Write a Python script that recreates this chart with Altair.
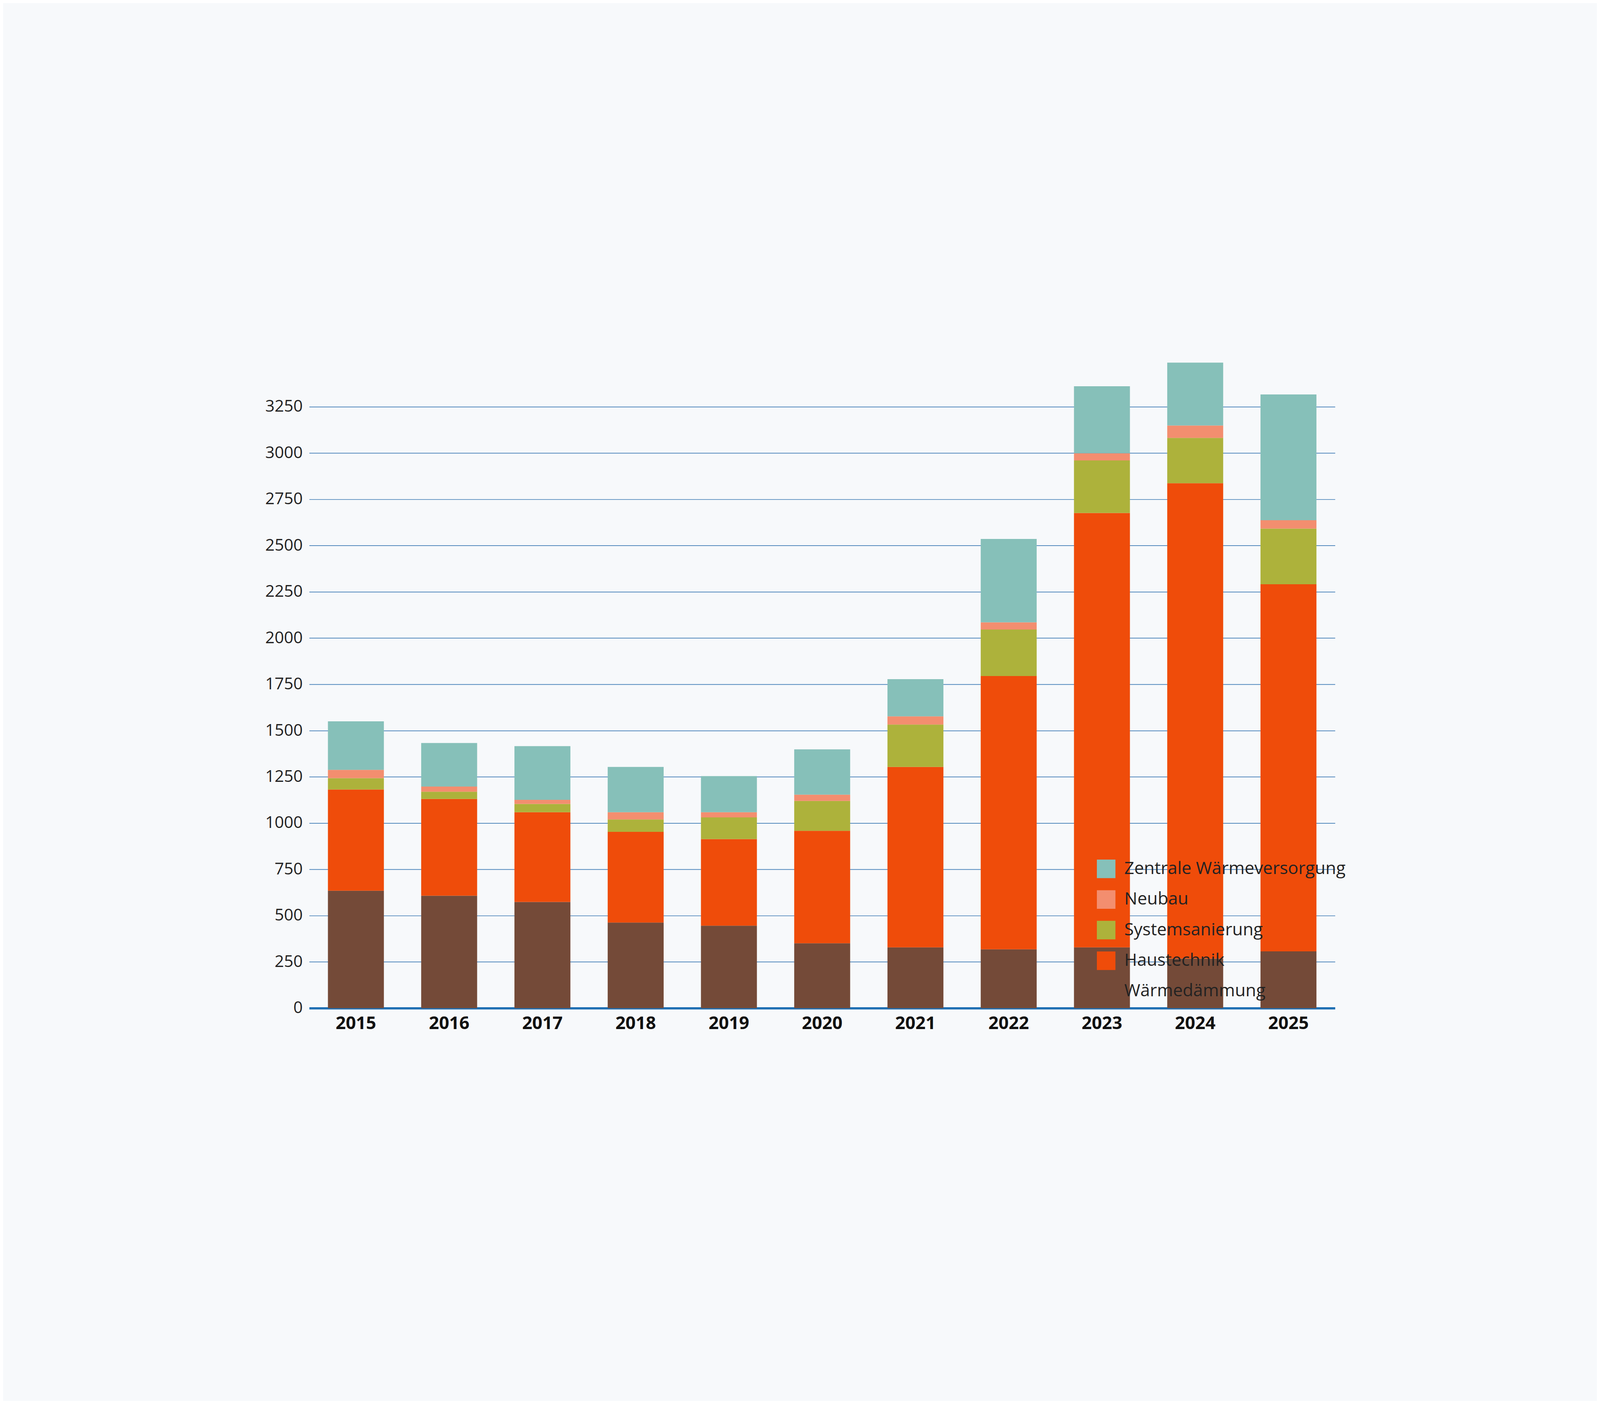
import altair as alt
import pandas as pd

years = [str(y) for y in range(2015, 2026)]
waermedaemmung = [635, 608, 574, 463, 446, 351, 329, 318, 329, 268, 307]
haustechnik = [547, 523, 485, 490, 468, 608, 975, 1477, 2347, 2569, 1984]
systemsanierung = [61, 39, 45, 67, 117, 161, 229, 251, 284, 245, 301]
neubau = [45, 28, 22, 39, 28, 34, 44, 39, 39, 67, 45]
zentrale = [262, 235, 290, 245, 195, 245, 201, 451, 362, 340, 680]

series = [
    ("Wärmedämmung", waermedaemmung, "#744a38"),
    ("Haustechnik", haustechnik, "#ef4c0a"),
    ("Systemsanierung", systemsanierung, "#adb23b"),
    ("Neubau", neubau, "#f38e6f"),
    ("Zentrale Wärmeversorgung", zentrale, "#86c0b9"),
]

rows = []
for i, (name, vals, _) in enumerate(series):
    for y, v in zip(years, vals):
        rows.append({"jahr": y, "kategorie": name, "wert": v, "ord": i})
df = pd.DataFrame(rows)

legend_domain = [s[0] for s in reversed(series)]
legend_range = [s[2] for s in reversed(series)]

chart = alt.Chart(df).mark_bar().encode(
    x=alt.X("jahr:O", title=None, sort=years,
            scale=alt.Scale(paddingInner=0.4, paddingOuter=0.2),
            axis=alt.Axis(labelAngle=0, labelFontSize=80, labelFontWeight="bold",
                          labelColor="#111111", labelPadding=30, ticks=False,
                          labelLimit=1000, domainColor="#1f6fb3", domainWidth=10)),
    y=alt.Y("wert:Q", title=None, stack="zero",
            scale=alt.Scale(domain=[0, 3500], nice=False),
            axis=alt.Axis(values=list(range(0, 3251, 250)), format="d",
                          labelFontSize=74, labelLimit=1000,
                          labelColor="#222222", labelPadding=30, ticks=False,
                          domain=False, gridColor="#3d7ab5", gridWidth=3)),
    color=alt.Color("kategorie:N", title=None,
                    scale=alt.Scale(domain=legend_domain, range=legend_range),
                    legend=alt.Legend(orient="none", legendX=3550, legendY=2250,
                                      symbolType="square", symbolSize=7000,
                                      symbolStrokeWidth=0, labelFontSize=78,
                                      labelColor="#222222", labelOffset=40,
                                      rowPadding=54, labelLimit=2000)),
    order=alt.Order("ord:Q", sort="ascending"),
).properties(
    width=7184, height=3579,
    autosize=alt.AutoSizeParams(type="fit", contains="padding"),
    padding={"left": 1180, "top": 250, "right": 1180, "bottom": 300},
).configure(
    background="#f7f9fb", font="Open Sans"
).configure_view(stroke=None)

chart.save("out.html", embed_options={"renderer": "svg", "actions": False})
